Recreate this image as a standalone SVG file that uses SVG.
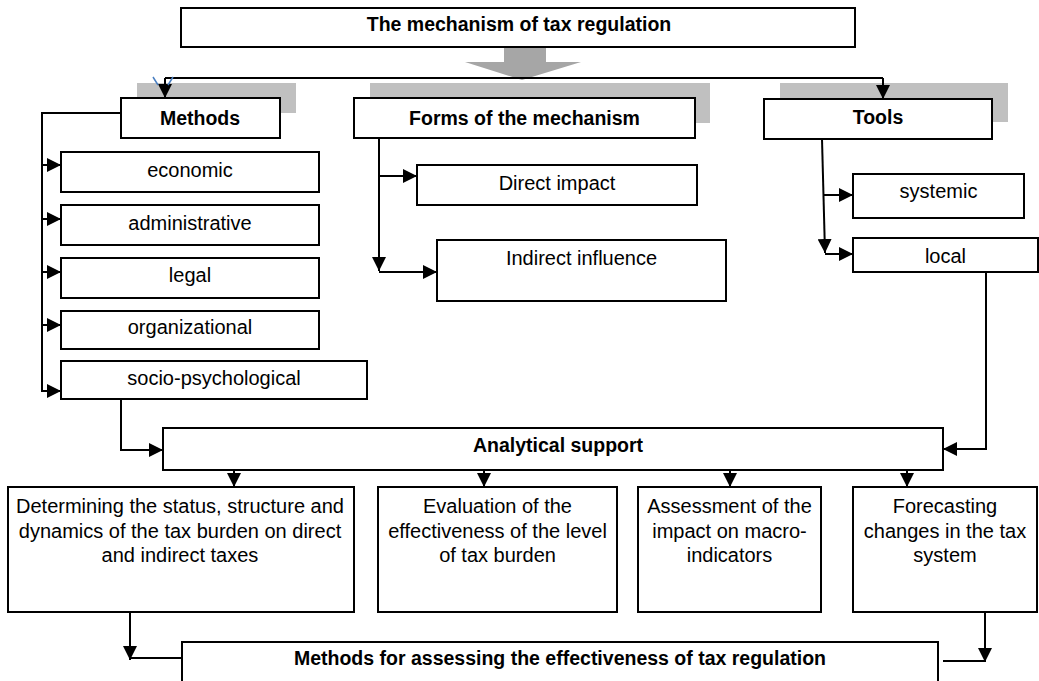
<svg xmlns="http://www.w3.org/2000/svg" width="1039" height="681" viewBox="0 0 1039 681">
<defs>
<marker id="ah" markerUnits="userSpaceOnUse" markerWidth="15" markerHeight="14" refX="14" refY="7" orient="auto" viewBox="0 0 15 14">
<path d="M0,0 L14,7 L0,14 z" fill="#000"/>
</marker>
<style>
.box{fill:#fff;stroke:#000;stroke-width:2}
.sh{fill:#c0c0c0}
.t{font-family:"Liberation Sans",Arial,sans-serif;font-size:20px;fill:#000;text-anchor:middle}
.b{font-weight:bold;font-size:19.5px}
.c{fill:none;stroke:#000;stroke-width:2}
.a{marker-end:url(#ah)}
</style>
</defs>
<rect width="1039" height="681" fill="#fff"/>

<g id="shadows">
<rect class="sh" x="137" y="83" width="159" height="30"/>
<rect class="sh" x="370" y="83" width="340" height="40"/>
<rect class="sh" x="780" y="83" width="228" height="39"/>
</g>

<path id="bigarrow" d="M504,47 H546 V62 H581 L522,80 L465,62 H504 Z" fill="#a6a6a6"/>

<g id="connectors">
<path class="c" d="M165,78 H883"/>
<path class="c a" d="M165,78 V98"/>
<path class="c a" d="M883,78 V99"/>
<path d="M153,77 L158,85 M173,77 L168,85" stroke="#4a7fc1" stroke-width="1.5" fill="none"/>
<path class="c a" d="M121,113 H42 V391 H61"/>
<path class="c a" d="M42,165 H61"/>
<path class="c a" d="M42,219 H61"/>
<path class="c a" d="M42,272 H61"/>
<path class="c a" d="M42,325 H61"/>
<path class="c a" d="M379,138 V271"/>
<path class="c a" d="M379,176 H417"/>
<path class="c a" d="M379,272 H437"/>
<path class="c a" d="M822,139 L825,253"/>
<path class="c a" d="M823,195 H853"/>
<path class="c a" d="M825,254 H853"/>
<path class="c a" d="M121,399 V450 H163"/>
<path class="c a" d="M986,272 V449 H943"/>
<path class="c a" d="M234,470 V487"/>
<path class="c a" d="M484,470 V487"/>
<path class="c a" d="M730,470 V487"/>
<path class="c a" d="M907,470 V487"/>
<path class="c a" d="M130,612 V660"/>
<path class="c" d="M130,658 H182"/>
<path class="c a" d="M985,612 V662"/>
<path class="c" d="M943,661 H985"/>
</g>

<g id="title">
<rect class="box" x="181" y="8" width="674" height="39"/>
<text class="t b" x="519" y="31">The mechanism of tax regulation</text>
</g>

<g id="methods">
<rect class="box" x="121" y="98" width="159" height="40"/>
<text class="t b" x="200" y="125">Methods</text>
</g>
<g id="forms">
<rect class="box" x="354" y="98" width="341" height="40"/>
<text class="t b" x="524.5" y="125">Forms of the mechanism</text>
</g>
<g id="tools">
<rect class="box" x="764" y="99" width="228" height="40"/>
<text class="t b" x="878" y="124">Tools</text>
</g>

<g id="economic">
<rect class="box" x="61" y="152" width="258" height="40"/>
<text class="t" x="190" y="177">economic</text>
</g>
<g id="administrative">
<rect class="box" x="61" y="205" width="258" height="40"/>
<text class="t" x="190" y="230">administrative</text>
</g>
<g id="legal">
<rect class="box" x="61" y="258" width="258" height="40"/>
<text class="t" x="190" y="282">legal</text>
</g>
<g id="organizational">
<rect class="box" x="61" y="311" width="258" height="38"/>
<text class="t" x="190" y="334">organizational</text>
</g>
<g id="socio">
<rect class="box" x="61" y="361" width="306" height="38"/>
<text class="t" x="214" y="385">socio-psychological</text>
</g>

<g id="direct">
<rect class="box" x="417" y="165" width="280" height="40"/>
<text class="t" x="557" y="190">Direct impact</text>
</g>
<g id="indirect">
<rect class="box" x="437" y="240" width="289" height="61"/>
<text class="t" x="581.5" y="265">Indirect influence</text>
</g>

<g id="systemic">
<rect class="box" x="853" y="174" width="171" height="44"/>
<text class="t" x="938.5" y="198">systemic</text>
</g>
<g id="local">
<rect class="box" x="853" y="238" width="185" height="34"/>
<text class="t" x="945.5" y="263">local</text>
</g>

<g id="analytical">
<rect class="box" x="163" y="428" width="780" height="42"/>
<text class="t b" x="558" y="452">Analytical support</text>
</g>

<g id="determining">
<rect class="box" x="8" y="487" width="346" height="125"/>
<text class="t" x="180" y="513">Determining the status, structure and</text>
<text class="t" x="180" y="537.5">dynamics of the tax burden on direct</text>
<text class="t" x="180" y="562">and indirect taxes</text>
</g>
<g id="evaluation">
<rect class="box" x="378" y="487" width="239" height="125"/>
<text class="t" x="497.5" y="513">Evaluation of the</text>
<text class="t" x="497.5" y="537.5">effectiveness of the level</text>
<text class="t" x="497.5" y="562">of tax burden</text>
</g>
<g id="assessment">
<rect class="box" x="638" y="487" width="183" height="125"/>
<text class="t" x="729.5" y="513">Assessment of the</text>
<text class="t" x="729.5" y="537.5">impact on macro-</text>
<text class="t" x="729.5" y="562">indicators</text>
</g>
<g id="forecasting">
<rect class="box" x="853" y="487" width="184" height="125"/>
<text class="t" x="945" y="513">Forecasting</text>
<text class="t" x="945" y="537.5">changes in the tax</text>
<text class="t" x="945" y="562">system</text>
</g>

<g id="assessing-methods">
<rect class="box" x="182" y="642" width="756" height="60"/>
<text class="t b" x="560" y="665">Methods for assessing the effectiveness of tax regulation</text>
</g>
</svg>
